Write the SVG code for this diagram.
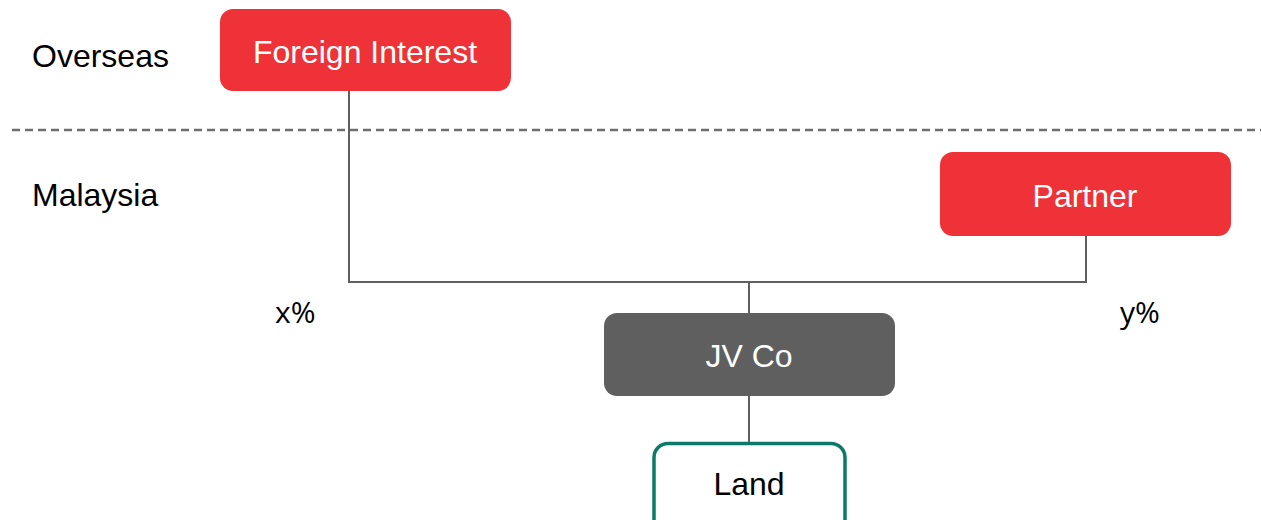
<svg xmlns="http://www.w3.org/2000/svg" width="1261" height="520" viewBox="0 0 1261 520">
  <style>
    .lbl { font-family: "Liberation Sans", Arial, sans-serif; font-size: 32px; fill: #000; }
    .pct { font-family: "Open Sans", "Liberation Sans", sans-serif; font-size: 30px; fill: #000; }
    .red { fill: #EE3238; }
    .gray { fill: #5F5F5F; }
    .land { fill: #FFFFFF; stroke: #0B7B67; stroke-width: 3.5; }
    .txt { font-family: "Liberation Sans", Arial, sans-serif; font-size: 32px; text-anchor: middle; }
    .wt { fill: #FFFFFF; }
    .conn { fill: none; stroke: #5F5F5F; stroke-width: 2; }
    .border { fill: none; stroke: #6F6F6F; stroke-width: 2.5; stroke-dasharray: 8 5; }
  </style>

  <rect width="1261" height="520" fill="#FFFFFF"/>

  <!-- jurisdiction labels and divider -->
  <g id="regions">
    <text class="lbl" x="32" y="67">Overseas</text>
    <text class="lbl" x="32" y="206">Malaysia</text>
    <line class="border" x1="12" y1="130" x2="1261" y2="130"/>
  </g>

  <!-- ownership lines -->
  <g id="connectors">
    <polyline class="conn" points="349,91 349,282 1086,282 1086,236"/>
    <line class="conn" x1="749" y1="282" x2="749" y2="313"/>
    <line class="conn" x1="749" y1="396" x2="749" y2="442"/>
  </g>

  <g id="foreign-interest">
    <rect class="red" x="220" y="9" width="291" height="82" rx="13"/>
    <text class="txt wt" x="365" y="63">Foreign Interest</text>
  </g>

  <g id="partner">
    <rect class="red" x="940" y="152" width="291" height="84" rx="13"/>
    <text class="txt wt" x="1085" y="207">Partner</text>
  </g>

  <g id="jv-co">
    <rect class="gray" x="604" y="313" width="291" height="83" rx="13"/>
    <text class="txt wt" x="749" y="367">JV Co</text>
  </g>

  <g id="land">
    <rect class="land" x="654" y="443.5" width="191" height="100" rx="14"/>
    <text class="txt" x="749" y="495" fill="#000">Land</text>
  </g>

  <!-- shareholding percentages -->
  <g id="shares">
    <text class="pct" x="275" y="323">x%</text>
    <text class="pct" x="1120" y="323">y%</text>
  </g>
</svg>
